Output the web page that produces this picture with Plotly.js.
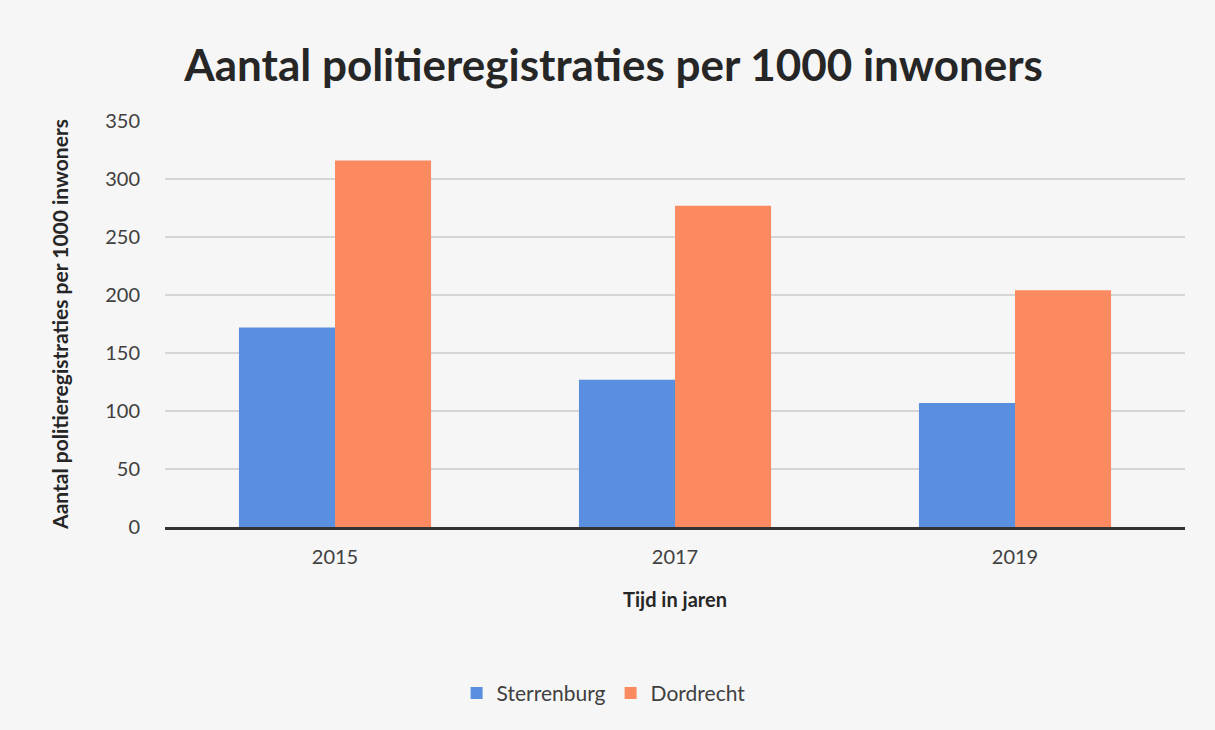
<!DOCTYPE html>
<html>
<head>
<meta charset="utf-8">
<script src="https://cdn.plot.ly/plotly-3.0.1.min.js"></script>
<style>
  html, body { margin: 0; padding: 0; background: #f6f6f6; }
  #chart { width: 1215px; height: 730px; }
</style>
</head>
<body>
<div id="chart"></div>
<script>
var years = ["2015", "2017", "2019"];
var sterrenburg = [172, 127, 107];
var dordrecht = [316, 277, 204];
var yTicks = [0, 50, 100, 150, 200, 250, 300, 350];

var font = "Lato, 'Open Sans', sans-serif";

var data = [
    {
        type: "bar",
        name: "Sterrenburg",
        x: years,
        y: sterrenburg,
        marker: { color: "#5a8fdf" }
    },
    {
        type: "bar",
        name: "Dordrecht",
        x: years,
        y: dordrecht,
        marker: { color: "#fb8a60" }
    }
];

var layout = {
    width: 1215,
    height: 730,
    margin: { l: 165, r: 30, t: 121, b: 203 },
    paper_bgcolor: "#f6f6f6",
    plot_bgcolor: "rgba(0,0,0,0)",
    font: { family: font, size: 20, color: "#404040" },
    title: {
        text: "<b>Aantal politieregistraties per 1000 inwoners</b>",
        font: { family: font, size: 44, color: "#262626" },
        x: 0.505,
        xanchor: "center",
        y: 0.91,
        yanchor: "middle"
    },
    barmode: "group",
    bargap: 0.435,
    bargroupgap: 0,
    xaxis: {
        type: "category",
        showline: true,
        linecolor: "#333333",
        linewidth: 3,
        ticks: "",
        ticklabelstandoff: 10,
        tickfont: { family: font, size: 20, color: "#404040" },
        title: {
            text: "<b>Tijd in jaren</b>",
            font: { family: font, size: 20, color: "#262626" },
            standoff: 26
        }
    },
    yaxis: {
        range: [0, 350],
        tickvals: yTicks,
        showgrid: true,
        gridcolor: "#d6d6d6",
        gridwidth: 1.5,
        zeroline: false,
        showline: false,
        ticks: "",
        ticklabelstandoff: 24,
        tickfont: { family: font, size: 20, color: "#404040" },
        title: {
            text: "<b>Aantal politieregistraties per 1000 inwoners</b>",
            font: { family: font, size: 21, color: "#262626" },
            standoff: 30
        }
    },
    showlegend: true,
    legend: {
        orientation: "h",
        x: 0.43,
        xanchor: "center",
        y: -0.41,
        yanchor: "middle",
        font: { family: font, size: 21, color: "#404040" },
        itemwidth: 30,
        traceorder: "normal"
    }
};

Plotly.newPlot("chart", data, layout, { displayModeBar: false });
</script>
</body>
</html>
